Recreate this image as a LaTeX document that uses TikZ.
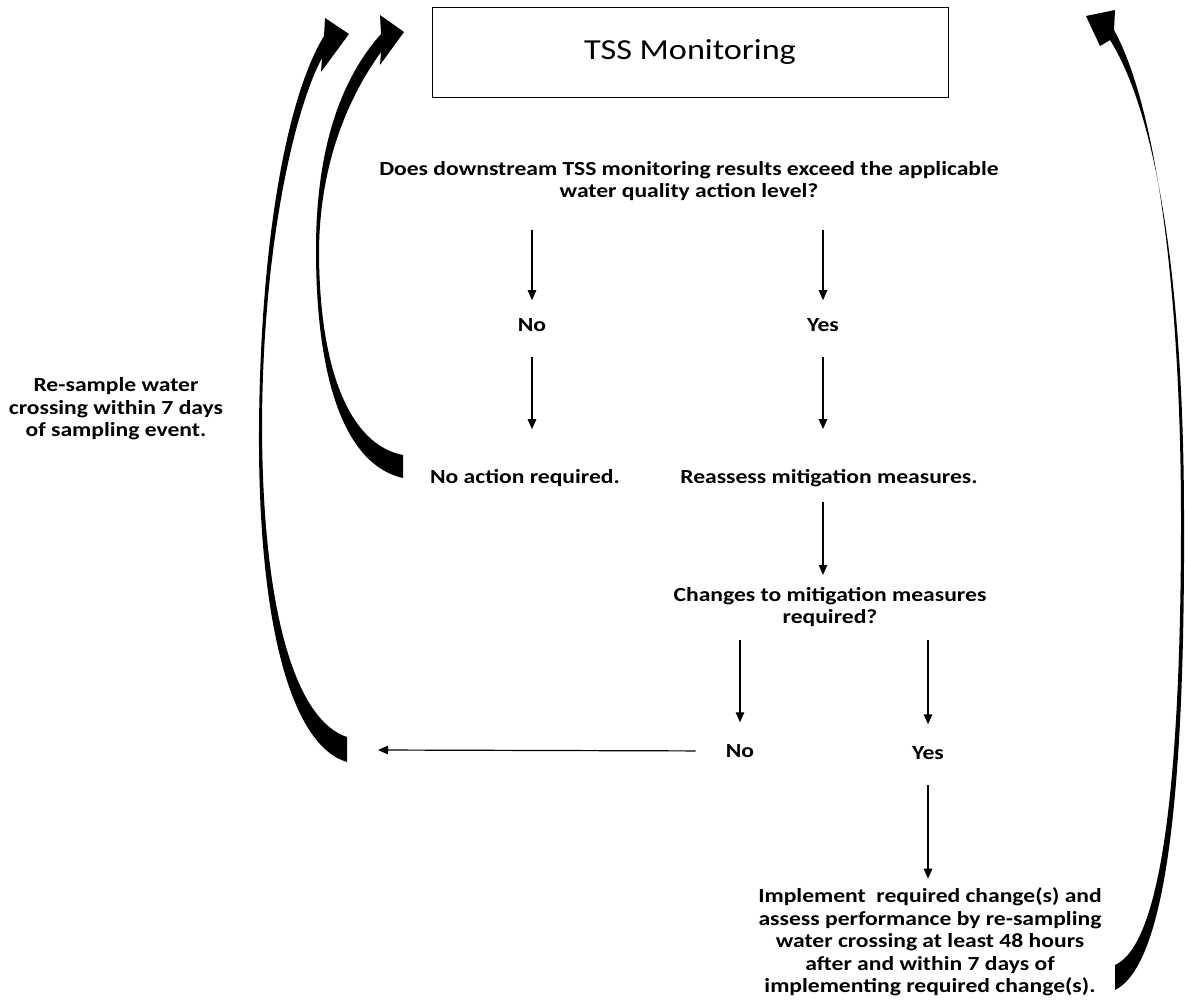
\documentclass[tikz,border=0pt]{standalone}
\usepackage{fontspec}
\setmainfont{Carlito}
\newfontfamily\widecal[FakeStretch=1.18]{Carlito}
\usetikzlibrary{arrows.meta}

\begin{document}
\begin{tikzpicture}[x=1pt,y=-1pt,
  lbl/.style={font=\widecal\bfseries\fontsize{20}{22.5}\selectfont, align=center, inner sep=0pt},
  flow/.style={-{Triangle[length=10pt,width=8.5pt]}, line width=1.2pt},
  loop/.style={fill=black}]
\useasboundingbox (0,0) rectangle (1185,1002);

% heading box
\node[draw, line width=1pt, minimum width=516pt, minimum height=90pt,
  font=\widecal\fontsize{29}{34}\selectfont] (title) at (690,52) {TSS Monitoring};

% questions and answers
\node[lbl] (ask) at (689,181) {Does downstream TSS monitoring results exceed the applicable\\ water quality action level?};
\node[lbl] (no1) at (532,325) {No};
\node[lbl] (yes1) at (823,325) {Yes};
\node[lbl] (noact) at (525,478) {No action required.};
\node[lbl] (reass) at (829,478) {Reassess mitigation measures.};
\node[lbl] (chg) at (830,607) {Changes to mitigation measures\\ required?};
\node[lbl] (no2) at (740,751) {No};
\node[lbl] (yes2) at (928,753) {Yes};
\node[lbl] (impl) at (930,942) {Implement~ required change(s) and\\ assess performance by re-sampling\\ water crossing at least 48 hours\\ after and within 7 days of\\ implementing required change(s).};
\node[lbl] (resamp) at (116,409) {Re-sample water\\ crossing within 7 days\\ of sampling event.};
\coordinate (back) at (378,750);

% straight connectors
\draw[flow, shorten <=29pt, shorten >=18pt] (no1 |- ask.south) -- (no1.north);
\draw[flow, shorten <=29pt, shorten >=18pt] (yes1 |- ask.south) -- (yes1.north);
\draw[flow, shorten <=25pt, shorten >=40pt] (no1.south) -- (no1.south |- noact.north);
\draw[flow, shorten <=25pt, shorten >=40pt] (yes1.south) -- (yes1.south |- reass.north);
\draw[flow, shorten <=15pt, shorten >=12pt] (reass.south -| yes1) -- (yes1 |- chg.north);
\draw[flow, shorten <=13pt, shorten >=22pt] (no2 |- chg.south) -- (no2.north);
\draw[flow, shorten <=13pt, shorten >=22pt] (yes2 |- chg.south) -- (yes2.north);
\draw[flow, shorten <=30pt] (no2.west) -- (back);
\draw[flow, shorten <=25pt, shorten >=9pt] (yes2.south) -- (yes2.south |- impl.north);

% curved return arrows
\fill[loop] (347,762) .. controls (290,745) and (258,620) .. (259,430)
  .. controls (260,250) and (285,100) .. (324,36) -- (325,18) -- (349,34) -- (321,72) -- (322,58)
  .. controls (294,110) and (262,250) .. (262,430)
  .. controls (263,610) and (295,720) .. (347,737) -- cycle;
\fill[loop] (403,478) .. controls (345,465) and (316,380) .. (316,250)
  .. controls (316,150) and (340,80) .. (381,34) -- (380,15) -- (404,32) -- (380,65) -- (381,52)
  .. controls (350,95) and (320,160) .. (319,250)
  .. controls (319,370) and (350,445) .. (403,455) -- cycle;
\fill[loop] (1115,990) .. controls (1165,965) and (1185,800) .. (1184,520)
  .. controls (1184,300) and (1160,120) .. (1110,40) -- (1100,46) -- (1086,16) -- (1115,10) -- (1114,30)
  .. controls (1158,110) and (1181,300) .. (1181,520)
  .. controls (1181,790) and (1160,945) .. (1115,965) -- cycle;
\end{tikzpicture}
\end{document}
